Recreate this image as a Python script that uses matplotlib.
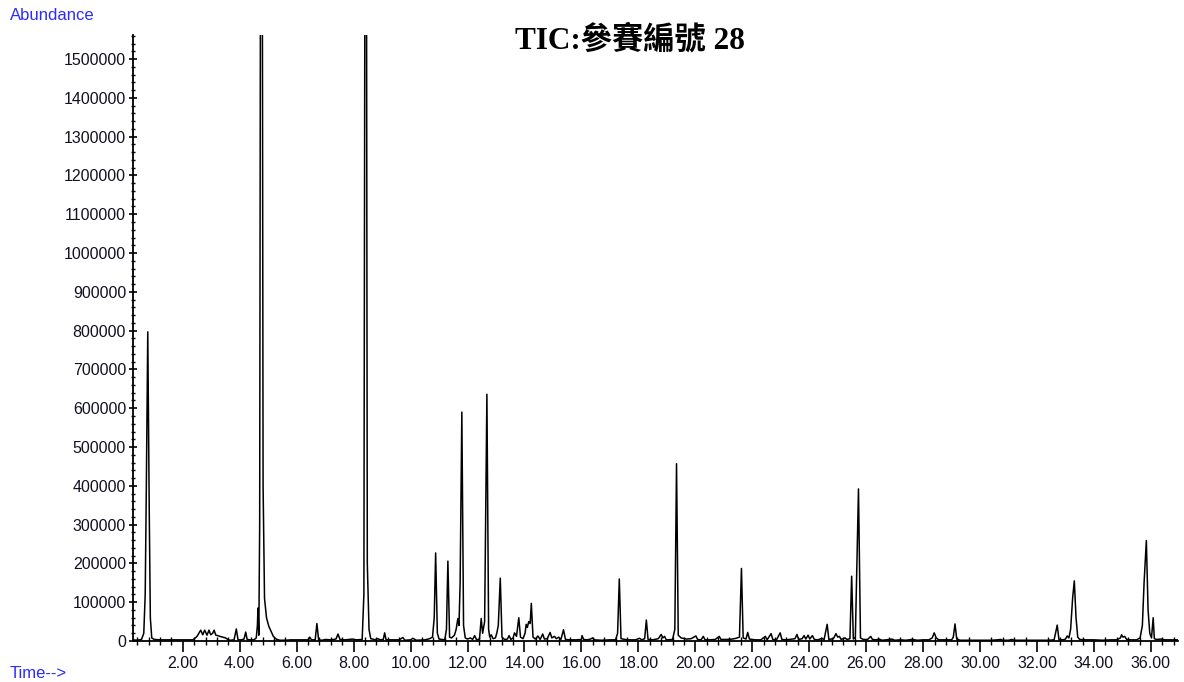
import numpy as np
import matplotlib
matplotlib.use("Agg")
import matplotlib.pyplot as plt
from matplotlib.ticker import MultipleLocator, FormatStrFormatter


# TIC trace, split in three time windows
rt_early = [0.25, 0.40, 0.55, 0.63, 0.68, 0.72, 0.77, 0.82, 0.86, 0.91, 1.0, 1.2, 1.5, 1.8, 2.1,
            2.36, 2.50, 2.63, 2.70, 2.77, 2.85, 2.92, 2.98, 3.05, 3.10, 3.16, 3.22, 3.30, 3.40,
            3.50, 3.60, 3.68, 3.80, 3.88, 3.94, 4.05, 4.15, 4.21, 4.26, 4.35, 4.50, 4.58, 4.62,
            4.64, 4.67, 4.70, 4.74, 4.78, 4.82, 4.87, 4.94, 5.02, 5.10, 5.18, 5.28, 5.40, 5.60,
            5.80, 6.00, 6.20]
abund_early = [3000, 2000, 4000, 20000, 120000, 400000, 797000, 350000, 60000, 8000, 4000, 3000,
               3000, 3000, 3000, 3000, 12000, 28000, 16000, 28000, 15000, 28000, 16000, 20000,
               28000, 15000, 14000, 12000, 10000, 8000, 3000, 2000, 3000, 31000, 3000, 3000, 5000,
               23000, 4000, 3000, 3000, 8000, 40000, 85000, 15000, 300000, 2400000, 2400000,
               400000, 110000, 60000, 38000, 25000, 12000, 5000, 2000, 2000, 3000, 3000, 3000]

rt_mid = [6.30, 6.42, 6.46, 6.52, 6.65, 6.71, 6.77, 6.9, 7.0, 7.2, 7.38, 7.45, 7.52, 7.7, 7.96,
          8.1, 8.30, 8.36, 8.41, 8.44, 8.48, 8.54, 8.60, 8.67, 8.75, 8.84, 8.95, 9.04, 9.09, 9.14,
          9.4, 9.6, 9.73, 9.8, 10.0, 10.08, 10.2, 10.5, 10.67, 10.77, 10.83, 10.88, 10.94, 11.0,
          11.1, 11.2, 11.26, 11.31, 11.37, 11.44, 11.5, 11.54, 11.6, 11.66, 11.70, 11.74, 11.80,
          11.86, 11.92, 12.0, 12.1, 12.18, 12.25, 12.32, 12.42, 12.48, 12.53, 12.60, 12.68,
          12.74, 12.78, 12.83, 12.90, 12.98, 13.03, 13.08, 13.15, 13.21, 13.30, 13.40, 13.46,
          13.52, 13.60, 13.65, 13.72, 13.80, 13.86, 13.95, 14.02, 14.06, 14.10, 14.15, 14.20,
          14.24, 14.30, 14.38, 14.47, 14.55, 14.64, 14.70, 14.80, 14.90, 14.96, 15.05, 15.12,
          15.2, 15.28, 15.37, 15.44, 15.6, 15.8]
abund_mid = [3000, 3000, 10000, 3000, 3000, 45000, 3000, 2000, 4000, 3000, 5000, 18000, 4000,
             3000, 5000, 3000, 4000, 120000, 2400000, 2400000, 200000, 30000, 6000, 5000, 3000,
             6000, 3000, 4000, 21000, 3000, 3000, 3000, 9000, 2000, 3000, 7000, 2000, 3000, 6000,
             10000, 60000, 227000, 20000, 5000, 4000, 3000, 30000, 206000, 10000, 8000, 12000,
             15000, 30000, 58000, 40000, 150000, 590000, 40000, 8000, 5000, 8000, 4000, 14000,
             3000, 5000, 58000, 20000, 50000, 636000, 30000, 10000, 16000, 6000, 8000, 21000,
             40000, 162000, 10000, 4000, 5000, 14000, 4000, 8000, 21000, 12000, 60000, 10000,
             6000, 20000, 43000, 35000, 50000, 45000, 97000, 10000, 5000, 13000, 4000, 18000,
             5000, 6000, 22000, 8000, 12000, 6000, 10000, 4000, 29000, 4000, 3000, 3000]

rt_late = [16.0, 16.02, 16.08, 16.2, 16.32, 16.39, 16.46, 16.7, 17.0, 17.2, 17.27, 17.33, 17.39,
           17.6, 17.9, 18.04, 18.12, 18.22, 18.28, 18.34, 18.5, 18.7, 18.8, 18.86, 18.92, 18.98,
           19.2, 19.28, 19.34, 19.40, 19.5, 19.7, 19.85, 20.02, 20.08, 20.2, 20.28, 20.34, 20.5,
           20.7, 20.84, 20.9, 21.1, 21.3, 21.43, 21.55, 21.62, 21.68, 21.78, 21.84, 21.9, 22.1,
           22.3, 22.46, 22.52, 22.66, 22.72, 22.85, 22.98, 23.04, 23.2, 23.4, 23.50, 23.57, 23.63,
           23.75, 23.82, 23.88, 23.96, 24.02, 24.11, 24.18, 24.3, 24.45, 24.52, 24.63, 24.69,
           24.85, 24.94, 25.0, 25.06, 25.12, 25.26, 25.32, 25.43, 25.49, 25.55, 25.62, 25.73,
           25.80, 25.9, 26.05, 26.16, 26.22, 26.35, 26.46, 26.55, 26.7, 26.91, 27.0, 27.2, 27.4,
           27.61, 27.8, 28.0, 28.2, 28.32, 28.39, 28.46, 28.55, 28.8, 29.0, 29.06, 29.12, 29.18,
           29.3, 29.6, 30.0, 30.4, 30.6, 30.73, 30.8, 31.0, 31.12, 31.2, 31.6, 32.0, 32.4, 32.6,
           32.71, 32.77, 32.9, 33.0, 33.06, 33.12, 33.18, 33.25, 33.31, 33.37, 33.43, 33.5, 33.7,
           34.0, 34.3, 34.6, 34.8, 34.93, 34.97, 35.02, 35.08, 35.15, 35.3, 35.5, 35.62, 35.70,
           35.76, 35.84, 35.90, 35.96, 36.02, 36.08, 36.12, 36.2, 36.35, 36.5, 36.7, 36.95]
abund_late = [4000, 14000, 4000, 3000, 5000, 8000, 3000, 2000, 3000, 3000, 20000, 160000, 6000,
              3000, 3000, 7000, 3000, 6000, 54000, 4000, 3000, 6000, 17000, 8000, 12000, 3000,
              4000, 30000, 457000, 15000, 8000, 5000, 6000, 13000, 4000, 3000, 12000, 3000, 3000,
              4000, 12000, 4000, 4000, 5000, 7000, 10000, 187000, 8000, 5000, 22000, 5000, 3000,
              3000, 12000, 3000, 19000, 4000, 3000, 21000, 4000, 3000, 5000, 6000, 17000, 4000,
              6000, 14000, 5000, 15000, 5000, 14000, 4000, 3000, 7000, 3000, 43000, 4000, 6000,
              19000, 10000, 12000, 4000, 8000, 4000, 6000, 167000, 5000, 10000, 392000, 8000,
              4000, 4000, 12000, 4000, 3000, 5000, 2000, 3000, 5000, 2000, 3000, 2000, 4000, 2000,
              3000, 3000, 8000, 21000, 8000, 3000, 3000, 3000, 10000, 44000, 5000, 2000, 2000,
              2000, 2000, 3000, 4000, 2000, 2000, 4000, 2000, 2000, 2000, 2000, 3000, 41000, 4000,
              3000, 5000, 13000, 8000, 30000, 110000, 155000, 60000, 10000, 4000, 3000, 3000,
              2000, 3000, 3000, 8000, 16000, 10000, 12000, 4000, 3000, 3000, 8000, 40000, 150000,
              259000, 80000, 20000, 8000, 60000, 6000, 4000, 5000, 3000, 3000, 3000]

title = "TIC:參賽編號 28"
blue = "#2b2bff"


def main():
    plt.rcParams['font.family'] = ['Liberation Sans', 'DejaVu Sans']

    rt = np.array(rt_early + rt_mid + rt_late)
    abund = np.array(abund_early + abund_mid + abund_late)

    fig = plt.figure(figsize=(11.84, 6.82), dpi=100)
    ax = fig.add_axes([0.1123, 0.0601, 0.8826, 0.8886])

    ax.plot(rt, abund, color='black', lw=1.1)

    ax.set_xlim(0.25, 36.95)
    ax.set_ylim(0, 1562000)

    ax.xaxis.set_major_locator(MultipleLocator(2))
    ax.xaxis.set_minor_locator(MultipleLocator(0.4))
    ax.xaxis.set_major_formatter(FormatStrFormatter('%.2f'))
    ax.yaxis.set_major_locator(MultipleLocator(100000))
    ax.yaxis.set_minor_locator(MultipleLocator(20000))
    ax.yaxis.set_major_formatter(FormatStrFormatter('%d'))

    ax.tick_params(axis='x', which='major', direction='out', length=8, width=1.2,
                   labelsize=11.5, pad=3, labelcolor='#111122')
    ax.tick_params(axis='x', which='minor', direction='inout', length=6, width=1)
    ax.tick_params(axis='y', which='major', direction='inout', length=6, width=1.2,
                   labelsize=11.5, pad=2, labelcolor='#111122')
    ax.tick_params(axis='y', which='minor', direction='inout', length=3, width=1)

    for side in ['top', 'right']:
        ax.spines[side].set_visible(False)
    for side in ['left', 'bottom']:
        ax.spines[side].set_linewidth(1.3)

    fig.text(10 / 1184, 1 - 16 / 682, "Abundance", color=blue, fontsize=12,
             ha='left', va='center')
    fig.text(10 / 1184, 1 - 673 / 682, "Time-->", color=blue, fontsize=12,
             ha='left', va='center')
    fig.text(630 / 1184, 1 - 40 / 682, title, fontsize=22.5, fontweight='bold',
             family=['Liberation Serif', 'Noto Sans CJK TC'], ha='center', va='center')

    fig.savefig("out.png", dpi=100)


main()
